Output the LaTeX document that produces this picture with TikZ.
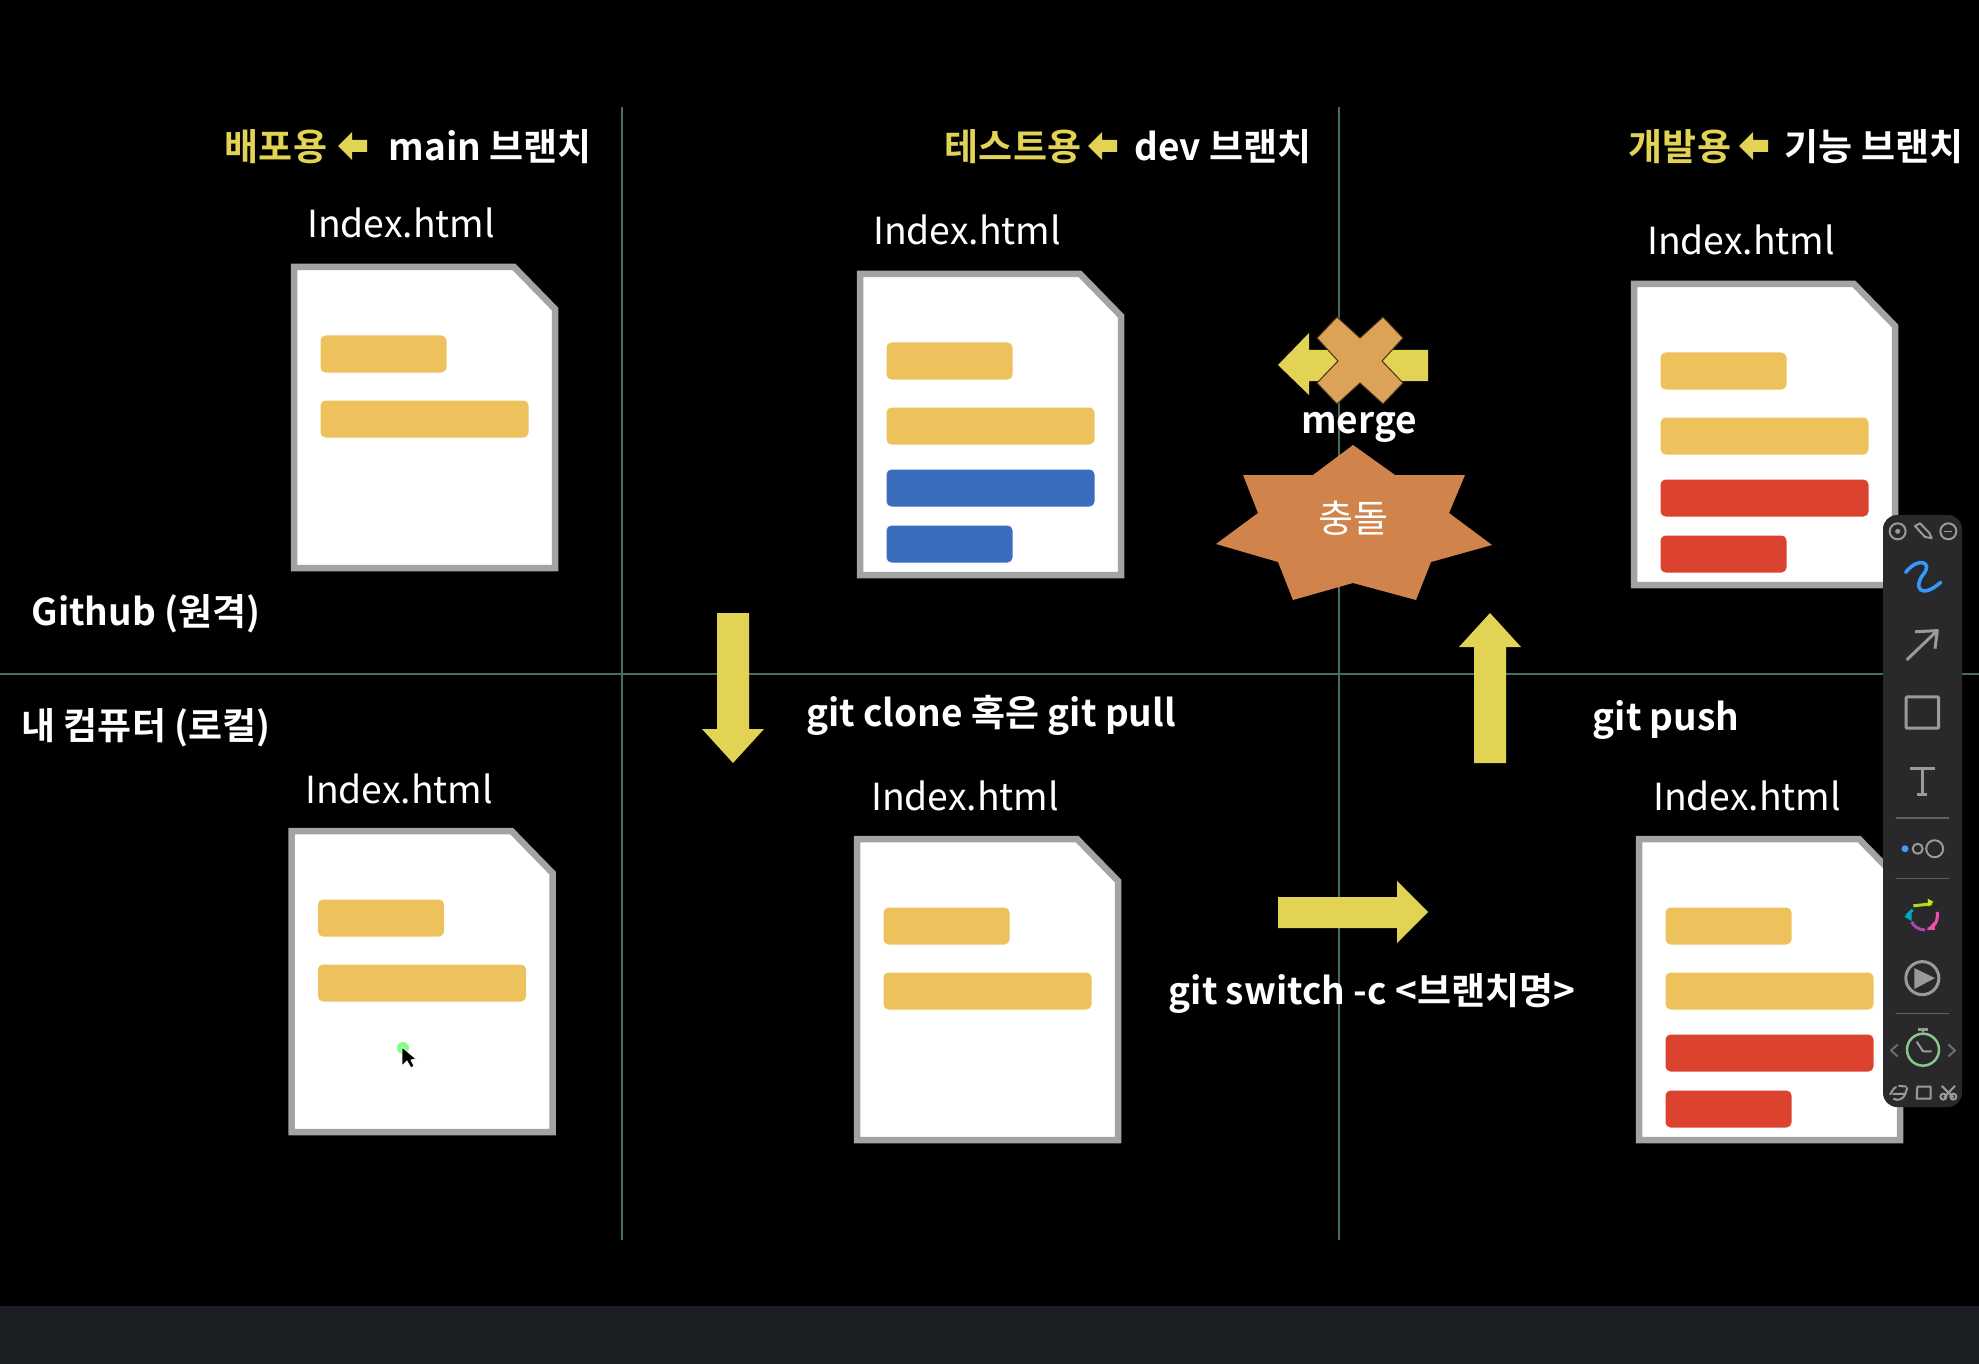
\documentclass[tikz,border=0pt]{standalone}
\usepackage{fontspec}
\setmainfont{Noto Sans CJK KR}
\newfontfamily\heavykr{Noto Sans CJK KR Bold}
\usetikzlibrary{arrows.meta}
\definecolor{gridgreen}{HTML}{47705A}
\definecolor{docgray}{HTML}{A3A3A3}
\definecolor{baryellow}{HTML}{EDC25C}
\definecolor{barblue}{HTML}{3A6DBD}
\definecolor{barred}{HTML}{DC432F}
\definecolor{arrowyellow}{HTML}{E3D354}
\definecolor{crossorange}{HTML}{DCA257}
\definecolor{staronge}{HTML}{D0844C}
\definecolor{striphue}{HTML}{1B1E23}
\definecolor{toolbg}{HTML}{29292B}
\definecolor{toolgray}{HTML}{9A9A9A}
\tikzset{
  x=1pt,y=-1pt,
  gridline/.style={draw=gridgreen,line width=1.8pt},
  docpage/.style={draw=docgray,fill=white,line width=6.5pt,miter limit=10},
  blockarrow/.style={fill=arrowyellow,draw=none},
  wlabel/.style={text=white,inner sep=0pt,font=\heavykr\fontsize{37}{40}\selectfont},
  ylabel/.style={text=arrowyellow,inner sep=0pt,font=\heavykr\fontsize{37}{40}\selectfont},
  filelabel/.style={text=white,inner sep=0pt,font=\fontsize{37.3}{40}\selectfont},
  toolline/.style={draw=toolgray,line width=3pt,line join=round},
  toolsep/.style={draw=toolgray!50!toolbg,line width=1.5pt},
}
\newcommand{\filedoc}[3]{\begin{scope}[shift={(#1,#2)}]
  \draw[docpage] (3,3) -- (223,3) -- (264,45) -- (264,304) -- (3,304) -- cycle;
  #3
\end{scope}}
\newcommand{\shortbar}[2]{\fill[#1,rounded corners=5pt] (29.5,#2) rectangle ++(126,37);}
\newcommand{\longbar}[2]{\fill[#1,rounded corners=5pt] (29.5,#2) rectangle ++(208,37);}
\newcommand{\tinyarrow}[2]{\fill[arrowyellow] (#1,#2) -- ++(14,-14) -- ++(0,8) -- ++(15,0) -- ++(0,12) -- ++(-15,0) -- ++(0,8) -- cycle;}
\begin{document}
\begin{tikzpicture}
\useasboundingbox (0,0) rectangle (1979,1364);
\fill[black] (0,0) rectangle (1979,1364);
\fill[striphue] (0,1306) rectangle (1979,1364);
% grid
\coordinate (gl1t) at (622,107); \coordinate (gl1b) at (622,1240);
\coordinate (gl2t) at (1339,107); \coordinate (gl2b) at (1339,1240);
\coordinate (glhl) at (0,674); \coordinate (glhr) at (1979,674);
\draw[gridline] (gl1t) -- (gl1b);
\draw[gridline] (gl2t) -- (gl2b);
\draw[gridline] (glhl) -- (glhr);
% header
\node[ylabel] (deploy) at (276,147) {배포용};
\tinyarrow{338}{146}
\node[wlabel] (mainb) at (490,147) {main 브랜치};
\node[ylabel] (testb) at (1013,147) {테스트용};
\tinyarrow{1088}{146}
\node[wlabel] (devb) at (1223,147) {dev 브랜치};
\node[ylabel] (devuse) at (1680,147) {개발용};
\tinyarrow{1739}{146}
\node[wlabel] (featb) at (1874,147) {기능 브랜치};
% docs
\node[filelabel] (f1) at (401,223) {Index.html};
\filedoc{291}{264}{\shortbar{baryellow}{71.5}\longbar{baryellow}{136.5}}
\node[filelabel] (f2) at (967,230) {Index.html};
\filedoc{857}{271}{\shortbar{baryellow}{71.5}\longbar{baryellow}{136.5}\longbar{barblue}{198.5}\shortbar{barblue}{254.5}}
\node[filelabel] (f3) at (1741,240) {Index.html};
\filedoc{1631}{281}{\shortbar{baryellow}{71.5}\longbar{baryellow}{136.5}\longbar{barred}{198.5}\shortbar{barred}{254.5}}
\node[filelabel] (f4) at (399,789) {Index.html};
\filedoc{288.5}{828}{\shortbar{baryellow}{71.5}\longbar{baryellow}{136.5}}
\node[filelabel] (f5) at (965,796) {Index.html};
\filedoc{854}{836}{\shortbar{baryellow}{71.5}\longbar{baryellow}{136.5}}
\node[filelabel] (f6) at (1747,796) {Index.html};
\filedoc{1636}{836}{\shortbar{baryellow}{71.5}\longbar{baryellow}{136.5}\longbar{barred}{198.5}\shortbar{barred}{254.5}}
% labels
\node[wlabel] (github) at (146,614) {Github (원격)};
\node[wlabel] (local) at (146,728) {내 컴퓨터 (로컬)};
\node[wlabel] (clone) at (991,715) {git clone 혹은 git pull};
\node[wlabel] (push) at (1666,720) {git push};
\node[wlabel] (switch) at (1372,993) {git switch -c <브랜치명>};
% block arrows
\fill[blockarrow] (717,613) -- (749,613) -- (749,729) -- (764,729) -- (733,763) -- (702,729) -- (717,729) -- cycle;
\fill[blockarrow] (1474,763) -- (1506,763) -- (1506,647) -- (1521,647) -- (1490,613) -- (1459,647) -- (1474,647) -- cycle;
\fill[blockarrow] (1278,897) -- (1397,897) -- (1397,881) -- (1428,912) -- (1397,943) -- (1397,928) -- (1278,928) -- cycle;
% merge
\fill[blockarrow] (1278,365) -- (1309,333) -- (1309,350) -- (1428,350) -- (1428,381) -- (1309,381) -- (1309,395) -- cycle;
\draw[fill=crossorange,draw=black!70!crossorange,line width=1pt] (1337,317) -- (1360,338) -- (1383,317) -- (1403,338) -- (1382,361) -- (1403,383) -- (1383,404) -- (1360,383) -- (1337,404) -- (1317,383) -- (1338,361) -- (1317,338) -- cycle;
\node[wlabel] (merge) at (1359,427) {merge};
% star
\fill[staronge] (1353,445) -- (1395,475) -- (1465,475) -- (1449,513) -- (1492,545) -- (1431,562) -- (1416,600) -- (1353,583) -- (1293,600) -- (1278,562) -- (1216,544) -- (1258,513) -- (1243,475) -- (1313,475) -- cycle;
\node[text=white,inner sep=0pt,font=\fontsize{38}{40}\selectfont] (clash) at (1353,518) {충돌};
% cursor
\fill[green!50!white] (403,1048) circle (6);
\draw[fill=black,draw=white,line width=.8pt] (402,1047) -- (402,1066) -- (407,1061) -- (411,1068) -- (414,1066) -- (411,1060) -- (416,1059) -- cycle;
% toolbar
\fill[toolbg,rounded corners=14pt] (1883,515) rectangle (1962,1107);
\begin{scope}[shift={(1860,500)},x=0.3333pt,y=-0.4018pt]
  \draw[toolline,line width=2pt] (113,78) circle (8pt);
  \fill[toolgray] (113,78) circle (2.5pt);
  \draw[toolline,line width=2pt] (265,78) circle (8pt);
  \draw[toolgray,line width=1.5pt] (253,78) -- (277,78);
  \draw[toolline,line width=2pt] (165,65) -- (180,58) -- (208,82) -- (215,95) -- (195,92) -- cycle;
  \draw[draw=blue!50!cyan!80!white,line width=3.5pt,line cap=round] (137,180) .. controls (175,140) and (220,155) .. (190,185) .. controls (160,215) and (180,250) .. (242,205);
  \draw[toolline] (140,398) -- (232,325) (165,328) -- (232,325) -- (225,370);
  \draw[toolline,rounded corners=1pt] (138,490) rectangle (236,568);
  \draw[toolline] (150,667) -- (225,667) (187,667) -- (187,732) (172,732) -- (202,732);
  \draw[toolsep] (107,792) -- (267,792);
  \fill[blue!60!cyan!70!white] (135,868) circle (3.5pt);
  \draw[toolline,line width=2pt] (173,868) circle (5pt);
  \draw[toolline,line width=2pt] (224,868) circle (8.5pt);
  \draw[toolsep] (107,942) -- (267,942);
  \draw[yellow!70!green,line width=3pt] (160,1010) -- (215,1005);
  \draw[magenta!70!white,line width=3pt] (232,1025) .. controls (235,1050) and (220,1065) .. (205,1068);
  \draw[violet!70!white,line width=3pt] (195,1070) .. controls (175,1070) and (160,1060) .. (155,1050);
  \draw[cyan!70!green,line width=3pt] (140,1035) -- (158,1020);
  \fill[cyan!70!green] (133,1037) -- (155,1025) -- (155,1048) -- cycle;
  \fill[magenta!70!white] (200,1070) -- (222,1050) -- (225,1070) -- cycle;
  \fill[yellow!80!green] (203,992) -- (220,1000) -- (205,1012) -- cycle;
  \draw[toolline] (187,1190) circle (16.5pt);
  \fill[toolgray] (163,1165) -- (225,1190) -- (163,1217) -- cycle;
  \draw[toolsep] (107,1278) -- (267,1278);
  \draw[toolline,draw=toolgray!70!green!80!white,line width=2.5pt] (189,1368) circle (16pt);
  \draw[toolline,line width=2.5pt] (175,1318) -- (203,1318) (189,1318) -- (189,1328);
  \draw[toolline,line width=2pt] (170,1348) -- (189,1372) -- (215,1372);
  \draw[toolline,draw=toolgray!60!toolbg,line width=2pt] (113,1355) -- (93,1370) -- (113,1385) (265,1355) -- (285,1370) -- (265,1385);
  \draw[toolline,line width=2pt] (90,1480) .. controls (100,1465) and (105,1460) .. (110,1462) (100,1490) .. controls (115,1497) and (130,1490) .. (135,1480) -- (142,1462) (115,1458) -- (140,1460) (98,1478) -- (135,1478);
  \draw[toolline,line width=2pt] (172,1460) -- (212,1460) -- (212,1490) -- (170,1490) -- cycle;
  \draw[toolline,line width=2pt] (245,1458) -- (280,1487) (285,1458) -- (252,1487);
  \draw[toolline,line width=2pt] (250,1485) circle (3pt);
  \draw[toolline,line width=2pt] (280,1485) circle (3pt);
\end{scope}
\end{tikzpicture}
\end{document}
